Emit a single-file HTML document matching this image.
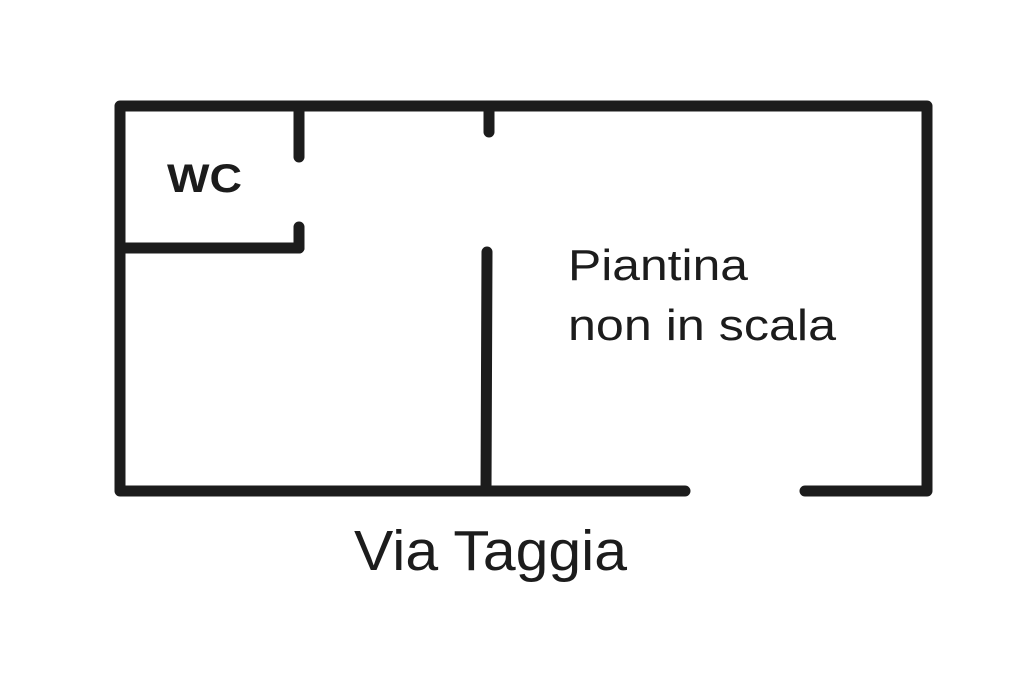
<!DOCTYPE html>
<html><head><style>
html,body{margin:0;padding:0;background:#fff;}
</style></head><body>
<svg width="1024" height="682" viewBox="0 0 1024 682" xmlns="http://www.w3.org/2000/svg">
<rect width="1024" height="682" fill="#fff"/>
<g stroke="#1c1c1c" stroke-width="11" fill="none" stroke-linecap="round" stroke-linejoin="round">
<polyline points="685,491 120,491 120,106 927,106 927,491 805,491"/>
<line x1="299" y1="106" x2="299" y2="157"/>
<line x1="120" y1="248" x2="299" y2="248"/>
<line x1="299" y1="248" x2="299" y2="227"/>
<line x1="489" y1="106" x2="489" y2="132"/>
<line x1="487" y1="252" x2="486" y2="491"/>
</g>
<g fill="#1c1c1c" font-family="Liberation Sans, sans-serif">
<text x="167" y="192" font-size="40" font-weight="bold" textLength="75" lengthAdjust="spacingAndGlyphs">WC</text>
<text x="568" y="280" font-size="44" textLength="180" lengthAdjust="spacingAndGlyphs">Piantina</text>
<text x="568" y="340" font-size="44" textLength="268" lengthAdjust="spacingAndGlyphs">non in scala</text>
<text x="354" y="570" font-size="57" textLength="273" lengthAdjust="spacingAndGlyphs">Via Taggia</text>
</g>
</svg>
</body></html>
